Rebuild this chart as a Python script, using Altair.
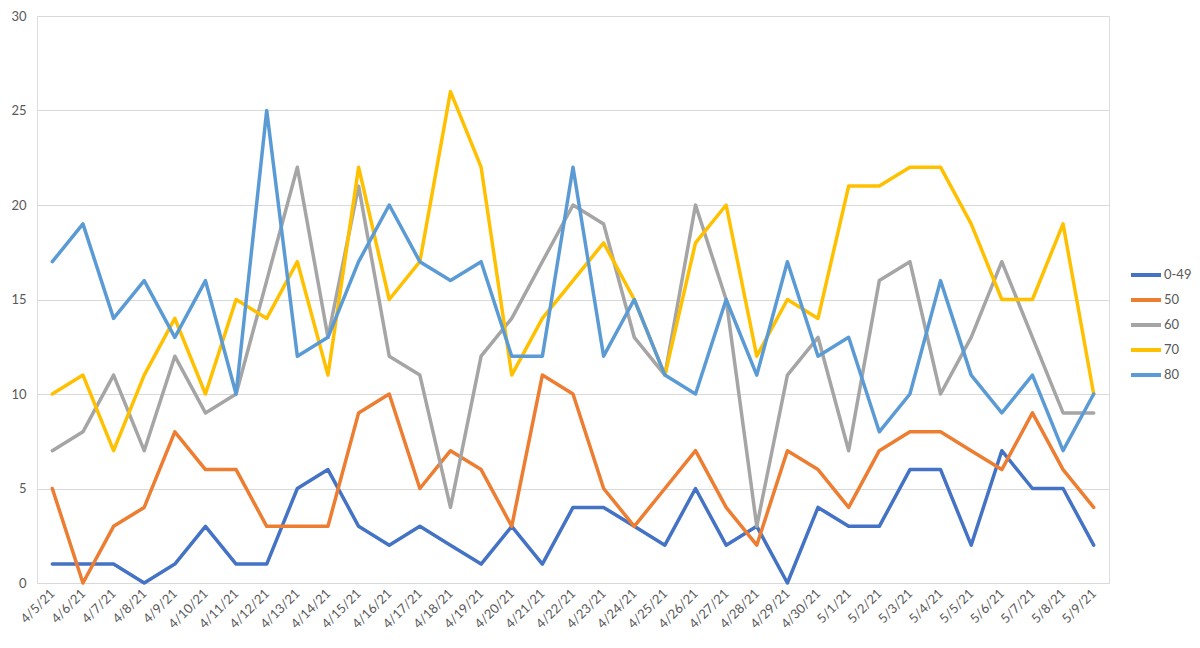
import altair as alt
import pandas as pd

dates = ["4/5/21", "4/6/21", "4/7/21", "4/8/21", "4/9/21", "4/10/21", "4/11/21", "4/12/21",
         "4/13/21", "4/14/21", "4/15/21", "4/16/21", "4/17/21", "4/18/21", "4/19/21", "4/20/21",
         "4/21/21", "4/22/21", "4/23/21", "4/24/21", "4/25/21", "4/26/21", "4/27/21", "4/28/21",
         "4/29/21", "4/30/21", "5/1/21", "5/2/21", "5/3/21", "5/4/21", "5/5/21", "5/6/21",
         "5/7/21", "5/8/21", "5/9/21"]

s_0_49 = [1, 1, 1, 0, 1, 3, 1, 1, 5, 6, 3, 2, 3, 2, 1, 3, 1, 4, 4, 3, 2, 5, 2, 3, 0, 4,
          3, 3, 6, 6, 2, 7, 5, 5, 2]
s_50 = [5, 0, 3, 4, 8, 6, 6, 3, 3, 3, 9, 10, 5, 7, 6, 3, 11, 10, 5, 3, 5, 7, 4, 2, 7, 6,
        4, 7, 8, 8, 7, 6, 9, 6, 4]
s_60 = [7, 8, 11, 7, 12, 9, 10, 16, 22, 13, 21, 12, 11, 4, 12, 14, 17, 20, 19, 13, 11, 20, 15, 3, 11, 13,
        7, 16, 17, 10, 13, 17, 13, 9, 9]
s_70 = [10, 11, 7, 11, 14, 10, 15, 14, 17, 11, 22, 15, 17, 26, 22, 11, 14, 16, 18, 15, 11, 18, 20, 12, 15, 14,
        21, 21, 22, 22, 19, 15, 15, 19, 10]
s_80 = [17, 19, 14, 16, 13, 16, 10, 25, 12, 13, 17, 20, 17, 16, 17, 12, 12, 22, 12, 15, 11, 10, 15, 11, 17, 12,
        13, 8, 10, 16, 11, 9, 11, 7, 10]

series_names = ["0-49", "50", "60", "70", "80"]
series_values = [s_0_49, s_50, s_60, s_70, s_80]
colors = ["#4472C4", "#ED7D31", "#A5A5A5", "#FFC000", "#5B9BD5"]

rows = []
for name, vals in zip(series_names, series_values):
    for d, v in zip(dates, vals):
        rows.append({"date": d, "series": name, "value": v})
df = pd.DataFrame(rows)

FONT = "Lato"
TXT = "#595959"

chart = alt.Chart(df).mark_line(strokeWidth=3.5, strokeCap="round", strokeJoin="round").encode(
    x=alt.X("date:O", sort=dates,
            scale=alt.Scale(type="point", padding=0.5),
            axis=alt.Axis(title=None, labelAngle=-45, labelAlign="right", labelBaseline="middle",
                          labelPadding=8, ticks=False, grid=False, domain=True,
                          domainColor="#d9d9d9", domainWidth=1.2,
                          labelColor=TXT, labelFontSize=13, labelFont=FONT)),
    y=alt.Y("value:Q", scale=alt.Scale(domain=[0, 30], nice=False, zero=True),
            axis=alt.Axis(title=None, values=[0, 5, 10, 15, 20, 25, 30], grid=True,
                          gridColor="#d9d9d9", gridWidth=1.2, domain=False, ticks=False,
                          labelPadding=11, labelColor=TXT, labelFontSize=13, labelFont=FONT)),
    color=alt.Color("series:N", sort=series_names,
                    scale=alt.Scale(domain=series_names, range=colors),
                    legend=alt.Legend(title=None, orient="none", legendX=1092, legendY=242,
                                      symbolType="stroke", symbolSize=900, symbolStrokeWidth=4,
                                      rowPadding=-5.3, labelOffset=1,
                                      labelFontSize=13, labelColor=TXT, labelFont=FONT)),
    order=alt.Order("series:N"),
).properties(
    width=1072,
    height=567,
    autosize=alt.AutoSizeParams(type="none"),
    padding={"left": 29, "top": 8, "right": 83, "bottom": 50},
).configure_view(stroke=None).configure(background="white")

chart.save("out.html", embed_options={"renderer": "svg", "actions": False})
